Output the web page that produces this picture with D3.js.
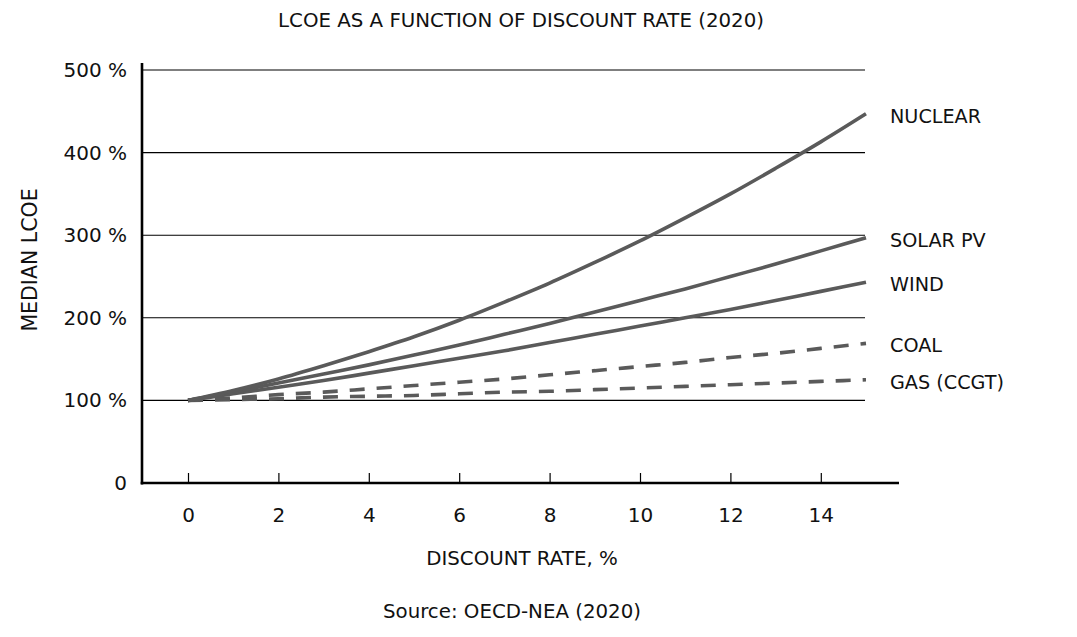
<!DOCTYPE html>
<html>
<head>
<meta charset="utf-8">
<script src="https://cdn.jsdelivr.net/npm/d3@7"></script>
<style>
  body { margin: 0; background: #fff; }
  text { font-family: "DejaVu Sans", sans-serif; fill: #111; }
</style>
</head>
<body>
<svg id="chart" width="1077" height="637"></svg>
<script>
const rates = [0, 1, 2, 3, 4, 5, 6, 7, 8, 9, 10, 11, 12, 13, 14, 15]
const nuclear = [100, 112, 126, 142, 159, 177, 197, 219, 242, 267, 293, 321, 350, 381, 413, 447]
const solarPV = [100, 110, 121, 132, 143, 155, 167, 180, 193, 207, 221, 235, 250, 265, 281, 297]
const wind    = [100, 108, 116, 124, 133, 142, 151, 160, 170, 180, 190, 200, 210, 221, 232, 243]
const coal    = [100, 103, 107, 110, 114, 118, 122, 126, 131, 136, 141, 146, 152, 157, 163, 169]
const gas     = [100, 101, 102, 104, 105, 106, 108, 110, 111, 113, 115, 117, 119, 121, 123, 125]
const xTicks = [0, 2, 4, 6, 8, 10, 12, 14]
const yTicks = [0, 100, 200, 300, 400, 500]

const series = [
  { name: 'NUCLEAR', values: nuclear, dashed: false },
  { name: 'SOLAR PV', values: solarPV, dashed: false },
  { name: 'WIND', values: wind, dashed: false },
  { name: 'COAL', values: coal, dashed: true },
  { name: 'GAS (CCGT)', values: gas, dashed: true }
]

const svg = d3.select('#chart')

const xScale = d3.scaleLinear().domain([0, 15]).range([188, 866])
const yScale = d3.scaleLinear().domain([0, 500]).range([483, 70])

const lineColor = '#5a5a5a'
const fontSize = '19.8px'

// gridlines
svg.append('g')
  .selectAll('line')
  .data(yTicks.filter(d => d > 0))
  .enter()
  .append('line')
  .attr('x1', 142)
  .attr('x2', 865)
  .attr('y1', d => yScale(d))
  .attr('y2', d => yScale(d))
  .attr('stroke', '#000')
  .attr('stroke-width', 1.1)

// y axis
const y_axis = d3.axisLeft(yScale)
  .tickValues(yTicks)
  .tickSize(0)
  .tickPadding(15)
  .tickFormat(d => d === 0 ? '0' : d + ' %')

const gy = svg.append('g')
  .attr('transform', 'translate(142,0)')
  .call(y_axis)
gy.select('.domain').remove()
gy.selectAll('text')
  .attr('font-size', '20px')
  .attr('font-family', '"DejaVu Sans", sans-serif')
  .style('fill', '#111')

svg.append('line')
  .attr('x1', 142).attr('x2', 142)
  .attr('y1', 63).attr('y2', 484.5)
  .attr('stroke', '#000')
  .attr('stroke-width', 2.6)

// x axis
const x_axis = d3.axisBottom(xScale)
  .tickValues(xTicks)
  .tickSize(-10)
  .tickPadding(25)

const gx = svg.append('g')
  .attr('transform', 'translate(0,483)')
  .call(x_axis)
gx.select('.domain').remove()
gx.selectAll('.tick line').attr('stroke', '#000').attr('stroke-width', 1.2)
gx.selectAll('text')
  .attr('font-size', '20px')
  .attr('font-family', '"DejaVu Sans", sans-serif')
  .style('fill', '#111')

svg.append('line')
  .attr('x1', 140.7).attr('x2', 899)
  .attr('y1', 483).attr('y2', 483)
  .attr('stroke', '#000')
  .attr('stroke-width', 2.6)

// lines
const line = d3.line()
  .x((d, i) => xScale(rates[i]))
  .y(d => yScale(d))
  .curve(d3.curveMonotoneX)

svg.append('g')
  .selectAll('path')
  .data(series.slice().reverse())
  .enter()
  .append('path')
  .attr('d', d => line(d.values))
  .attr('fill', 'none')
  .attr('stroke', lineColor)
  .attr('stroke-width', 3.6)
  .attr('stroke-dasharray', d => d.dashed ? '15,12' : null)

// series labels
svg.append('g')
  .selectAll('text')
  .data(series)
  .enter()
  .append('text')
  .attr('x', 890)
  .attr('y', d => yScale(d.values[d.values.length - 1]) + 2)
  .attr('dy', '0.36em')
  .attr('font-size', '19.2px')
  .text(d => d.name)

// titles
svg.append('text')
  .attr('x', 521).attr('y', 27)
  .attr('text-anchor', 'middle')
  .attr('font-size', fontSize)
  .text('LCOE AS A FUNCTION OF DISCOUNT RATE (2020)')

svg.append('text')
  .attr('transform', 'translate(37,260) rotate(-90)')
  .attr('text-anchor', 'middle')
  .attr('font-size', '20.5px')
  .text('MEDIAN LCOE')

svg.append('text')
  .attr('x', 522).attr('y', 565)
  .attr('text-anchor', 'middle')
  .attr('font-size', fontSize)
  .text('DISCOUNT RATE, %')

svg.append('text')
  .attr('x', 512).attr('y', 618)
  .attr('text-anchor', 'middle')
  .attr('font-size', fontSize)
  .text('Source: OECD-NEA (2020)')
</script>
</body>
</html>
